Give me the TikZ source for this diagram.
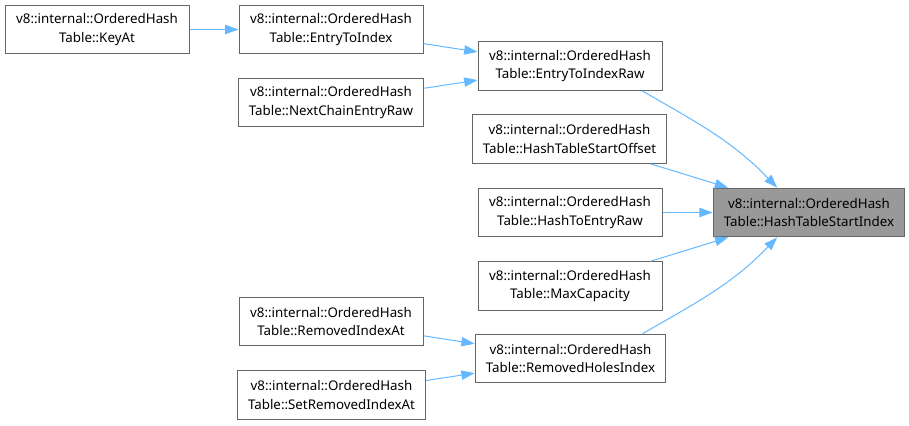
\documentclass[tikz,border=0pt]{standalone}
\usepackage{fontspec}
\setmainfont{Noto Sans}
\usetikzlibrary{arrows.meta}
\definecolor{edgeblue}{RGB}{99,184,255}
\definecolor{boxgray}{RGB}{102,102,102}
\definecolor{hitgray}{RGB}{153,153,153}
\tikzset{
fnbox/.style={draw=boxgray,fill=white,line width=0.75pt,align=center,text=black,font=\fontsize{10}{14}\selectfont,minimum width=138pt,minimum height=36.5pt,inner xsep=8pt},
fnedge/.style={draw=edgeblue,line width=0.75pt,-{Triangle[length=10pt,width=7pt]}}
}
\begin{document}
\begin{tikzpicture}[x=0.75pt,y=0.75pt]
\useasboundingbox (0,0) rectangle (909,-425);
\node[fnbox] (keyat) at (97,-29.5) {v8::internal::OrderedHash\\Table::KeyAt};
\node[fnbox] (e2i) at (331,-29.5) {v8::internal::OrderedHash\\Table::EntryToIndex};
\node[fnbox] (nextraw) at (331,-102.5) {v8::internal::OrderedHash\\Table::NextChainEntryRaw};
\node[fnbox] (e2iraw) at (570,-66) {v8::internal::OrderedHash\\Table::EntryToIndexRaw};
\node[fnbox] (startoff) at (569.5,-139) {v8::internal::OrderedHash\\Table::HashTableStartOffset};
\node[fnbox] (h2eraw) at (570,-212.5) {v8::internal::OrderedHash\\Table::HashToEntryRaw};
\node[fnbox,fill=hitgray] (B) at (809,-212.5) {v8::internal::OrderedHash\\Table::HashTableStartIndex};
\node[fnbox] (maxcap) at (570,-286) {v8::internal::OrderedHash\\Table::MaxCapacity};
\node[fnbox] (remat) at (331,-321.5) {v8::internal::OrderedHash\\Table::RemovedIndexAt};
\node[fnbox] (holes) at (570.5,-358.5) {v8::internal::OrderedHash\\Table::RemovedHolesIndex};
\node[fnbox] (setrem) at (331.5,-395) {v8::internal::OrderedHash\\Table::SetRemovedIndexAt};

\draw[fnedge] (keyat) -- (e2i);
\draw[fnedge] (e2i) -- (e2iraw);
\draw[fnedge] (nextraw) -- (e2iraw);
\draw[fnedge] (e2iraw.-19) to[out=-30,in=134] (B.142);
\draw[fnedge] (startoff) -- (B);
\draw[fnedge] (h2eraw) -- (B);
\draw[fnedge] (maxcap) -- (B);
\draw[fnedge] (holes.19) to[out=30,in=-134] (B.-142);
\draw[fnedge] (remat) -- (holes);
\draw[fnedge] (setrem) -- (holes);
\end{tikzpicture}
\end{document}
